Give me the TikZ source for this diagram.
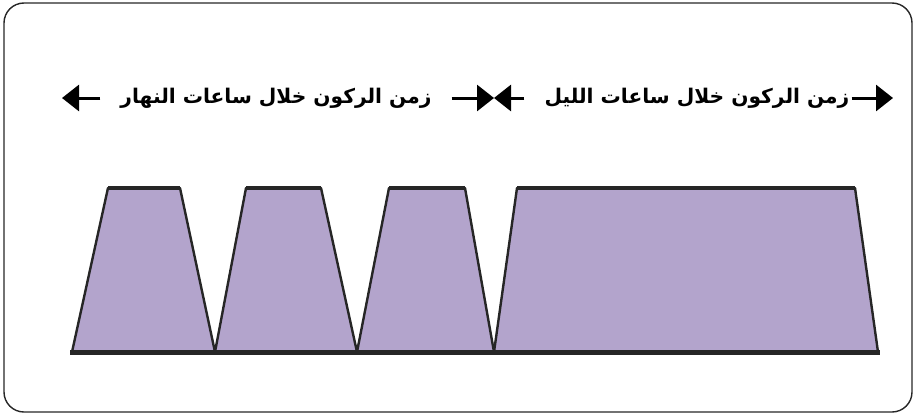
\documentclass[tikz,border=0pt]{standalone}
\usepackage{fontspec}
\newfontfamily\arabicfont[Script=Arabic]{DejaVu Sans}
\TeXXeTstate=1
\usetikzlibrary{arrows.meta,positioning}
\definecolor{barfill}{HTML}{B3A4CC}

\begin{document}
\begin{tikzpicture}[
  x=1pt, y=-1pt,
  frame/.style={draw=black!85, line width=1.4pt, rounded corners=20pt},
  block/.style={draw=black!85, fill=barfill, line width=2.4pt, line join=round},
  label/.style={font=\arabicfont\bfseries\fontsize{20.2}{24}\selectfont, inner sep=0pt},
  span/.style={-{Triangle[length=17pt,width=26pt]}, line width=3pt, draw=black}
]
\useasboundingbox (0,0) rectangle (917,415);

% Frame
\draw[frame] (4,3) rectangle (912,412);

% Parking periods
\draw[block] (72,352) -- (108,188) -- (180,188) -- (215,352) -- cycle;
\draw[block] (215,352) -- (246,188) -- (321,188) -- (357,352) -- cycle;
\draw[block] (357,352) -- (389,188) -- (465,188) -- (494,352) -- cycle;
\draw[block] (494,352) -- (517,188) -- (855,188) -- (878,352) -- cycle;

% Thick top edges and base line
\foreach \a/\b in {108/180, 246/321, 389/465, 517/855}
  \draw[draw=black!85, line width=4pt] (\a,188) -- (\b,188);
\draw[draw=black!85, line width=5pt] (70,352) -- (880,352);

% Labels
\node[label] (day) at (276,98) {\beginR زمن الركون خلال ساعات النهار\endR};
\node[label] (night) at (697,98) {\beginR زمن الركون خلال ساعات الليل\endR};

% Arrows
\coordinate (dayend) at (62,98);
\coordinate (split) at (494,98);
\coordinate (nightend) at (893,98);

\draw[span] ([xshift=-20pt]day.west) -- (dayend);
\draw[span] ([xshift=20pt]day.east) -- (split);
\draw[span] ([xshift=-20pt]night.west) -- (split);
\draw[span] ([xshift=2pt]night.east) -- (nightend);

\end{tikzpicture}
\end{document}
